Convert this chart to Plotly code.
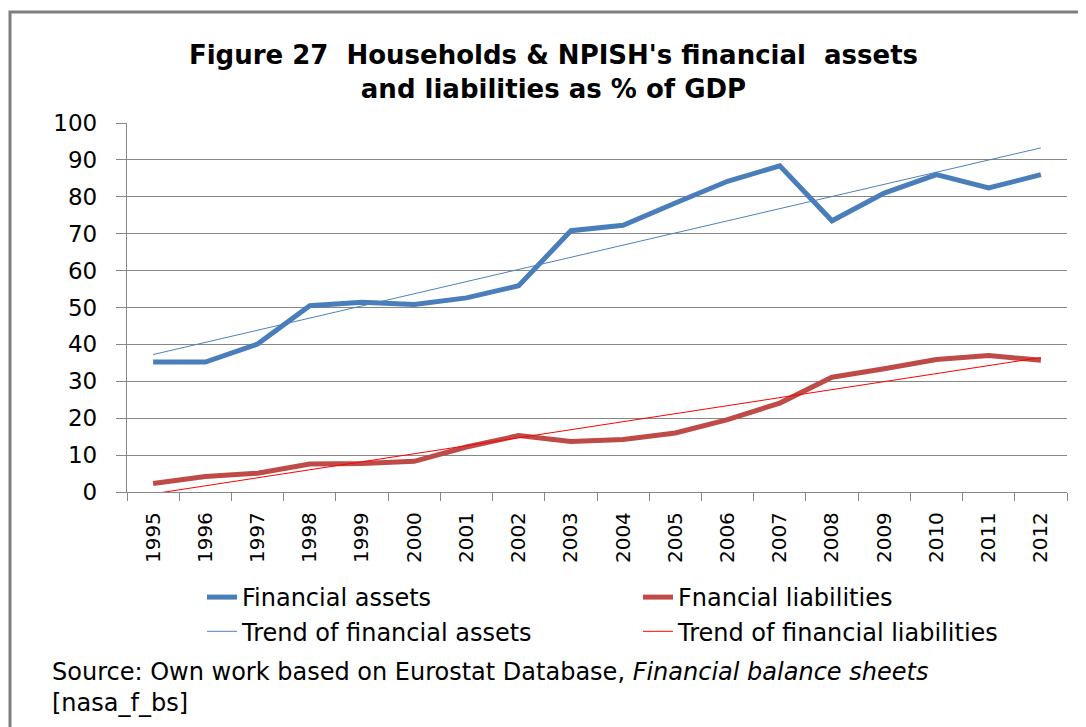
import numpy as np
import plotly.graph_objects as go

years = [str(y) for y in range(1995, 2013)]
financial_assets = [35.2, 35.2, 40.1, 50.5, 51.4, 50.8, 52.6, 55.9, 70.8, 72.3,
                    78.3, 84.2, 88.4, 73.5, 81.0, 86.0, 82.4, 86.0]
financial_liabilities = [2.3, 4.2, 5.1, 7.6, 7.7, 8.3, 12.2, 15.3, 13.7, 14.2,
                         16.0, 19.6, 24.1, 31.1, 33.4, 35.9, 37.0, 35.7]
y_ticks = list(range(0, 101, 10))

idx = np.arange(len(years))
def linear_trend(vals):
    k, b = np.polyfit(idx, np.array(vals, dtype=float), 1)
    return list(k * idx + b)

trend_assets = linear_trend(financial_assets)
trend_liabilities = linear_trend(financial_liabilities)

FONT = "DejaVu Sans"
OFF = 8                      # page body margin of the browser
W, H = 1086 - OFF, 727 - OFF
# plot area in screen pixels
SX0, SX1, SY0, SY1 = 127, 1067, 123, 492
L, R = SX0 - OFF, W - (SX1 - OFF)
T, B = SY0 - OFF, H - (SY1 - OFF)
pw, ph = W - L - R, H - T - B

def px_x(p):   # screen px -> paper
    return (p - OFF - L) / pw

def px_y(p):
    return (H - B - (p - OFF)) / ph

fig = go.Figure()
fig.add_trace(go.Scatter(x=years, y=financial_assets, mode="lines", name="Financial assets",
                         line=dict(color="#4A7EBB", width=5)))
fig.add_trace(go.Scatter(x=years, y=financial_liabilities, mode="lines", name="Fnancial liabilities",
                         line=dict(color="#BE4B48", width=5)))
fig.add_trace(go.Scatter(x=years, y=trend_assets, mode="lines", name="Trend of financial assets",
                         line=dict(color="#4F81BD", width=1)))
fig.add_trace(go.Scatter(x=years, y=trend_liabilities, mode="lines", name="Trend of financial liabilities",
                         line=dict(color="#FF0000", width=1)))

fig.update_layout(
    width=W, height=H,
    margin=dict(l=L, r=R, t=T, b=B, autoexpand=False),
    paper_bgcolor="white", plot_bgcolor="white",
    font=dict(family=FONT, color="black"),
    title=dict(text="<b>Figure 27\u00a0 Households & NPISH's financial\u00a0 assets<br>and liabilities as % of GDP</b>",
               font=dict(family=FONT, size=26, color="black"),
               x=(553.5 - OFF) / W, xanchor="center", xref="container",
               y=1 - 56 / H, yanchor="top", yref="container"),
    showlegend=True,
    legend=dict(orientation="h", x=px_x(202), xanchor="left", y=px_y(575), yanchor="top",
                entrywidth=391, entrywidthmode="pixels",
                font=dict(family=FONT, size=24, color="black"),
                bgcolor="rgba(0,0,0,0)", tracegroupgap=0, itemwidth=30),
)

fig.update_xaxes(type="category", categoryorder="array", categoryarray=years,
                 tickson="boundaries", ticks="outside", ticklen=8, tickcolor="#868686", tickwidth=1.3,
                 tickangle=-90, tickfont=dict(family=FONT, size=20, color="black"),
                 showgrid=False, showline=True, linecolor="#868686", linewidth=1.3,
                 ticklabelstandoff=11, range=[-0.5, len(years) - 0.5])
fig.update_yaxes(range=[0, 100], tickvals=y_ticks, ticks="outside", ticklen=10,
                 tickcolor="#868686", tickwidth=1.3,
                 tickfont=dict(family=FONT, size=23, color="black"),
                 showgrid=True, gridcolor="#868686", gridwidth=1.3,
                 showline=True, linecolor="#868686", linewidth=1.3, zeroline=False,
                 ticklabelstandoff=14)

# outer frame of the chart (right and bottom edges lie outside the view)
fig.add_shape(type="rect", xref="paper", yref="paper",
              x0=px_x(10), x1=px_x(1200), y0=px_y(800), y1=px_y(12),
              line=dict(color="#7F7F7F", width=3), fillcolor="rgba(0,0,0,0)", layer="below")

fig.add_annotation(xref="paper", yref="paper", x=px_x(50), y=px_y(656),
                   xanchor="left", yanchor="top", align="left", showarrow=False,
                   text="Source: Own work based on Eurostat Database, <i>Financial balance sheets</i><br>[nasa_f_bs]",
                   font=dict(family=FONT, size=24, color="black"))

fig.write_html("out.html")
